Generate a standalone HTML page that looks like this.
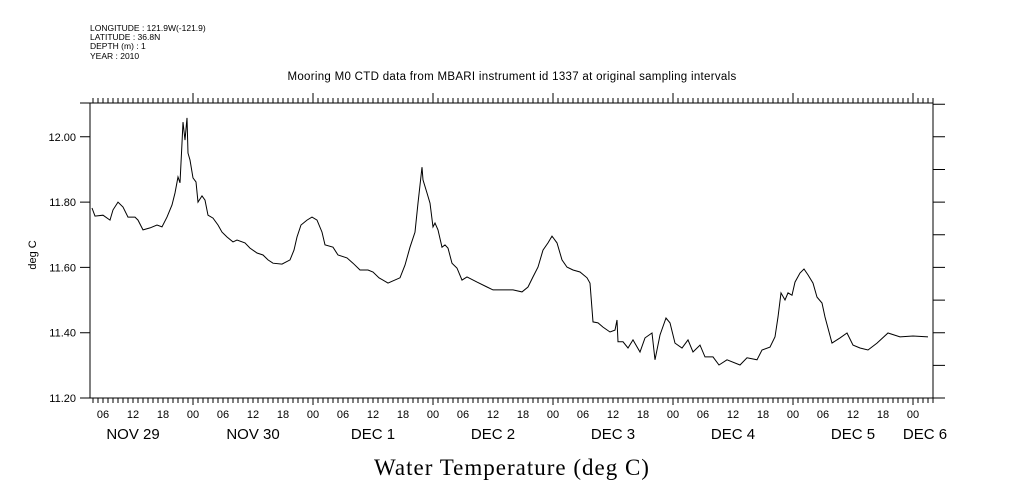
<!DOCTYPE html>
<html><head><meta charset="utf-8"><style>
html,body{margin:0;padding:0;background:#fff;}
svg{display:block;font-family:"Liberation Sans",sans-serif;}
</style></head><body>
<svg id="chart" width="1009" height="504" viewBox="0 0 1009 504" xmlns="http://www.w3.org/2000/svg">
<g font-size="8.5" fill="#000">
<text x="90" y="31">LONGITUDE : 121.9W(-121.9)</text>
<text x="90" y="40">LATITUDE : 36.8N</text>
<text x="90" y="49">DEPTH (m) : 1</text>
<text x="90" y="59">YEAR : 2010</text>
</g>
<text x="512" y="80" font-size="11.5" text-anchor="middle" letter-spacing="0.3">Mooring M0 CTD data from MBARI instrument id 1337 at original sampling intervals</text>
<text transform="translate(36,255) rotate(-90)" font-size="11" text-anchor="middle">deg C</text>
<text x="512" y="475" font-family="Liberation Serif, serif" font-size="23" text-anchor="middle" letter-spacing="1">Water Temperature (deg C)</text>
<g id="axes" stroke="#000" stroke-width="1" fill="none"></g>
<g id="labels" fill="#000"></g>
<path id="series" fill="none" stroke="#000" stroke-width="1"/>
</svg>
<script>
const hours=[3.8,4.4,6.0,7.4,8.0,9.0,10.0,11.0,12.4,13.0,14.0,15.4,16.8,17.8,18.8,19.8,20.4,21.0,21.4,21.8,22.0,22.4,22.8,23.0,23.4,24.0,24.6,25.0,25.8,26.4,27.0,28.0,29.0,29.8,30.8,32.0,32.8,34.4,35.4,36.8,38.0,39.0,40.0,41.8,43.4,44.2,44.8,45.6,46.8,47.8,48.8,49.8,50.4,52.0,53.0,54.8,56.0,57.4,59.0,60.0,61.2,63.0,65.4,66.4,67.4,68.4,69.0,69.8,70.0,70.8,71.4,72.0,72.4,73.0,73.8,74.4,75.0,75.8,76.8,77.8,78.8,80.8,82.8,84.0,86.0,88.0,89.8,91.0,92.0,93.0,94.0,95.0,95.8,96.8,97.8,98.8,100.0,101.4,102.8,103.4,104.0,105.0,106.0,107.4,108.4,108.8,109.0,110.0,111.0,112.0,113.4,114.4,115.8,116.4,117.4,118.6,119.4,120.4,121.8,123.0,124.0,125.4,126.4,128.0,129.2,130.8,133.4,134.8,136.8,137.8,139.4,140.4,141.0,141.6,142.4,143.0,143.8,144.4,145.4,146.2,147.0,148.0,148.8,149.8,150.4,151.8,153.4,154.8,156.0,157.4,159.0,160.8,163.0,165.4,168.0,171.0];
const temps=[11.782,11.757,11.760,11.745,11.776,11.800,11.785,11.754,11.754,11.745,11.715,11.721,11.730,11.724,11.754,11.791,11.828,11.877,11.859,11.981,12.045,11.990,12.058,11.950,11.929,11.874,11.862,11.800,11.819,11.806,11.760,11.751,11.730,11.708,11.693,11.678,11.684,11.675,11.659,11.644,11.638,11.623,11.613,11.610,11.623,11.653,11.693,11.730,11.745,11.754,11.745,11.708,11.669,11.662,11.638,11.629,11.613,11.592,11.592,11.586,11.568,11.552,11.568,11.607,11.662,11.708,11.797,11.907,11.868,11.828,11.797,11.724,11.736,11.715,11.662,11.669,11.659,11.613,11.598,11.561,11.571,11.555,11.540,11.531,11.531,11.531,11.525,11.540,11.571,11.601,11.653,11.675,11.696,11.675,11.623,11.601,11.592,11.586,11.568,11.552,11.433,11.430,11.417,11.402,11.408,11.439,11.372,11.372,11.353,11.378,11.341,11.384,11.399,11.317,11.393,11.445,11.430,11.368,11.353,11.378,11.341,11.362,11.326,11.326,11.301,11.317,11.301,11.323,11.317,11.347,11.356,11.387,11.448,11.522,11.500,11.522,11.515,11.555,11.583,11.595,11.577,11.552,11.509,11.491,11.448,11.368,11.384,11.399,11.362,11.353,11.347,11.368,11.399,11.387,11.390,11.387];
const yTicks=[11.20,11.40,11.60,11.80,12.00];
const hourLabels=["00","06","12","18"];
const dayLabels=["NOV 29","NOV 30","DEC  1","DEC  2","DEC  3","DEC  4","DEC  5","DEC  6"];

const L=90,R=933,T=103,B=398;
const X=h=>73+5*h;
const Y=v=>398-(v-11.2)*326.5;
const NS="http://www.w3.org/2000/svg";
const axes=document.getElementById('axes'),labels=document.getElementById('labels');
let d=`M${L} ${T}V${B}H${R}V${T}H${L}M80 ${T}H${L}`;
for(let h=4;X(h)<=R;h++){const x=X(h);const maj=h%24===0;d+=`M${x} ${T}v${maj?-10:-5}M${x} ${B}v${maj?7:5}`;}
for(let v=11.2;v<=12.15;v+=0.1){const y=Y(v).toFixed(1);d+=`M${R} ${y}h12`;}
yTicks.forEach(v=>{d+=`M80 ${Y(v)}H${L}`;});
const p=document.createElementNS(NS,'path');p.setAttribute('d',d);


axes.appendChild(p);
function txt(x,y,s,size,anchor){const t=document.createElementNS(NS,'text');t.setAttribute('x',x);t.setAttribute('y',y);t.setAttribute('font-size',size);t.setAttribute('text-anchor',anchor);t.setAttribute('xml:space','preserve');t.textContent=s;labels.appendChild(t);return t;}
yTicks.forEach(v=>{const t=txt(76,Y(v)+4,v.toFixed(2),11,'end');

});
for(let h=6;X(h)<=R;h+=6){const t=txt(X(h),418,hourLabels[(h/6)%4],11,'middle');

}
dayLabels.forEach((s,i)=>{let x=X(24*i+12);if(x>R)x=925;const t=txt(x,439,s,15,'middle');

});
document.getElementById('series').setAttribute('d',hours.map((h,i)=>(i?'L':'M')+X(h).toFixed(1)+' '+Y(temps[i]).toFixed(1)).join(''));
</script>
</body></html>
